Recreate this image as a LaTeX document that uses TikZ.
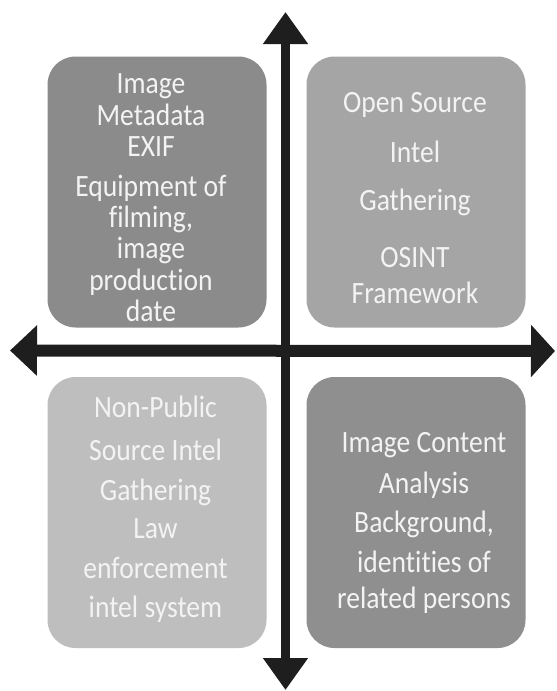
\documentclass[tikz,border=0pt]{standalone}
\usepackage{fontspec}
\setmainfont{Carlito}[FakeStretch=0.89, Ligatures=NoCommon]
\usetikzlibrary{arrows.meta}
\definecolor{cTL}{HTML}{8B8B8B}
\definecolor{cTR}{HTML}{A5A5A5}
\definecolor{cBL}{HTML}{BEBEBE}
\definecolor{cBR}{HTML}{8F8F8F}
\definecolor{axisc}{HTML}{1E1E1E}
\definecolor{txtc}{HTML}{F3F3F3}
\tikzset{
  quad/.style={draw=none, rounded corners=28pt, minimum width=219pt, minimum height=271pt, inner sep=0pt},
  txt/.style={anchor=base, inner sep=0pt, text=txtc, font=\fontsize{31pt}{31pt}\selectfont},
  vaxis/.style={line width=9pt, draw=axisc, {Triangle[width=43pt,length=32pt]}-{Triangle[width=43pt,length=32pt]}},
  haxis/.style={line width=12pt, draw=axisc, {Triangle[width=49pt,length=27pt]}-{Triangle[width=51pt,length=24pt]}}
}
\begin{document}
\begin{tikzpicture}[x=1pt,y=-1pt]
\useasboundingbox[fill=white] (0,0) rectangle (557,691);
% boxes
\node[quad, fill=cTL] (tl) at (157,192) {};
\node[quad, fill=cTR] (tr) at (416,192) {};
\node[quad, fill=cBL] (bl) at (157,512.5) {};
\node[quad, fill=cBR] (br) at (416,512.5) {};
% axes
\coordinate (atop) at (285.5,12);
\coordinate (abot) at (285.5,690);
\coordinate (aleft) at (10,350.5);
\coordinate (aright) at (555,351);
\draw[haxis] (aleft) -- (aright);
\draw[vaxis] (atop) -- (abot);
% texts
\foreach \y/\t [count=\i] in {93/Image,125/Metadata,156/EXIF,196/{Equipment of},227/{filming,},258/image,290/production,321/date}
  \node[txt] (tlt\i) at (151,\y) {\t};
\foreach \y/\t [count=\i] in {112/{Open Source},162/Intel,210/Gathering,267/OSINT,303/Framework}
  \node[txt] (trt\i) at (415,\y) {\t};
\foreach \y/\t [count=\i] in {417/Non-Public,460/{Source Intel},500/Gathering,538/Law,578/enforcement,617/{intel system}}
  \node[txt] (blt\i) at (155.5,\y) {\t};
\foreach \y/\t [count=\i] in {452/{Image Content},493/Analysis,532/{Background,},572/{identities of},608/{related persons}}
  \node[txt] (brt\i) at (424,\y) {\t};
\end{tikzpicture}
\end{document}
